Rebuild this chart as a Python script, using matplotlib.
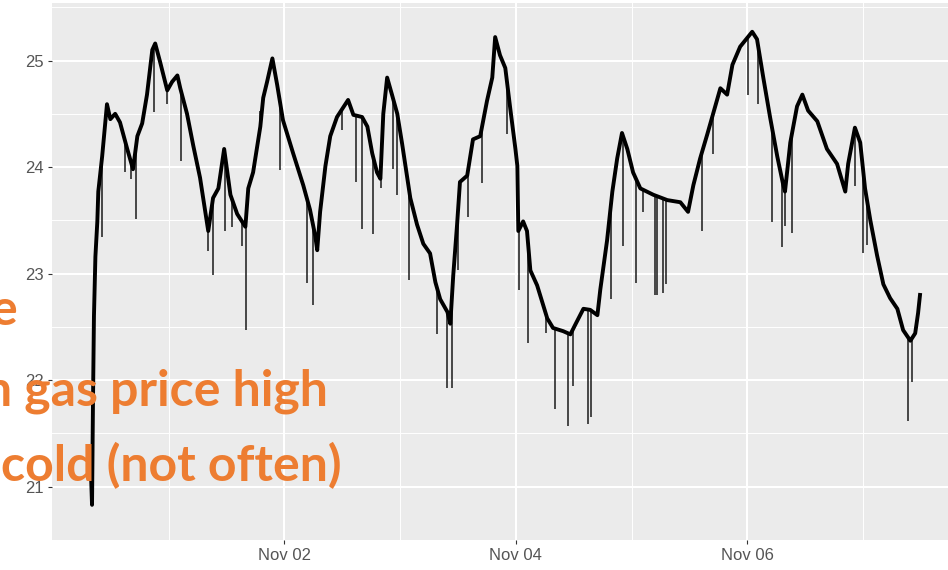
"""Indoor temperature trace, ggplot-style panel with orange slide text on top."""
import matplotlib
matplotlib.use("Agg")
import matplotlib.pyplot as plt
import matplotlib.dates as mdates
import numpy as np
import pandas as pd

BASE = pd.Timestamp("2016-11-01 00:00")

# hours relative to Nov 01 00:00, temperature (deg C)
trend_hours = [
    -16.1, -15.9, -15.7, -15.5, -15.2, -14.8, -14.6, -13.8, -12.8, -12.1,
    -11.1, -10.1, -8.6, -7.4, -6.5, -5.5, -4.5, -3.4, -2.8, -1.8,
    -0.3, 0.7, 1.8, 2.4, 3.8, 5.1, 6.5, 7.6, 8.2, 9.2,
    10.3, 11.5, 12.8, 14.2, 15.9, 16.5, 17.5, 19.0, 19.6, 20.4,
    21.5, 22.5, 23.7, 25.8, 27.9, 29.3, 30.4, 30.8, 31.4, 32.5,
    33.5, 34.9, 36.2, 37.2, 38.3, 40.1, 41.2, 42.2, 43.2, 43.9,
    44.5, 45.3, 46.3, 47.4, 48.4, 50.1, 51.5, 52.8, 54.2, 55.3,
    56.3, 57.8, 58.4, 59.0, 59.8, 60.4, 61.9, 63.1, 64.6, 66.0,
    67.1, 67.7, 68.7, 69.8, 70.8, 71.9, 72.3, 72.5, 73.5, 74.3,
    75.0, 76.4, 78.5, 79.7, 81.8, 83.3, 84.3, 86.0, 87.4, 88.9,
    89.5, 90.9, 92.0, 93.0, 94.0, 95.1, 96.3, 97.8, 100.5, 103.4,
    106.1, 107.7, 108.8, 110.2, 111.7, 112.9, 114.4, 115.8, 116.9, 118.5,
    121.0, 122.0, 123.3, 124.7, 126.2, 127.4, 127.8, 128.9, 130.3, 131.4,
    132.6, 134.5, 136.5, 138.6, 140.3, 140.9, 142.3, 143.4, 144.4, 145.5,
    146.9, 148.2, 149.6, 151.1, 152.3, 153.8, 154.8, 155.4, 155.8,
]
trend_temp = [
    21.1, 20.83, 21.8, 22.6, 23.16, 23.49, 23.77, 24.1, 24.59, 24.45,
    24.5, 24.42, 24.17, 23.98, 24.29, 24.41, 24.68, 25.1, 25.16, 24.99,
    24.72, 24.8, 24.86, 24.74, 24.5, 24.2, 23.9, 23.58, 23.4, 23.71,
    23.8, 24.17, 23.74, 23.56, 23.44, 23.8, 23.95, 24.38, 24.65, 24.8,
    25.02, 24.77, 24.44, 24.13, 23.83, 23.6, 23.35, 23.22, 23.58, 24.01,
    24.29, 24.47, 24.56, 24.63, 24.49, 24.47, 24.38, 24.13, 23.95, 23.89,
    24.5, 24.84, 24.68, 24.5, 24.22, 23.71, 23.46, 23.28, 23.19, 22.92,
    22.76, 22.64, 22.53, 22.98, 23.46, 23.86, 23.92, 24.26, 24.29, 24.62,
    24.84, 25.22, 25.05, 24.93, 24.56, 24.17, 24.01, 23.4, 23.49, 23.4,
    23.03, 22.89, 22.58, 22.49, 22.46, 22.43, 22.52, 22.67, 22.66, 22.61,
    22.85, 23.31, 23.77, 24.08, 24.32, 24.17, 23.95, 23.8, 23.74, 23.69,
    23.67, 23.58, 23.83, 24.08, 24.31, 24.5, 24.74, 24.68, 24.96, 25.13,
    25.27, 25.2, 24.84, 24.47, 24.1, 23.84, 23.77, 24.23, 24.57, 24.68,
    24.53, 24.43, 24.17, 24.03, 23.77, 24.03, 24.37, 24.23, 23.8, 23.5,
    23.17, 22.9, 22.77, 22.67, 22.47, 22.37, 22.44, 22.63, 22.8,
]

# short downward drops in the sensor trace: time (h), lowest reading
spike_hours = [
    -13.8, -9.0, -7.8, -6.7, -3.0, -0.3, 2.6, 8.2, 9.2, 11.7,
    13.2, 15.2, 16.1, 19.0, 23.1, 28.7, 30.0, 36.0, 38.9, 40.1,
    42.4, 44.1, 46.6, 47.4, 49.9, 55.7, 57.7, 58.8, 60.0, 62.1,
    65.0, 70.2, 72.7, 74.6, 78.2, 80.2, 82.9, 83.9, 87.0, 87.6,
    91.7, 94.3, 96.9, 98.4, 100.9, 101.3, 102.5, 103.2, 110.6, 112.9,
    120.2, 122.2, 125.1, 127.2, 127.8, 129.3, 142.3, 144.0, 144.8, 153.3,
    154.1,
]
spike_low = [
    23.34, 23.95, 23.89, 23.51, 24.52, 24.59, 24.06, 23.21, 22.99, 23.4,
    23.44, 23.26, 22.47, 24.53, 23.97, 22.91, 22.71, 24.35, 23.86, 23.42,
    23.37, 23.8, 23.98, 23.74, 22.94, 22.43, 21.93, 21.93, 23.03, 23.53,
    23.85, 24.31, 22.85, 22.35, 22.44, 21.73, 21.57, 21.95, 21.59, 21.65,
    22.76, 23.26, 22.91, 23.58, 22.8, 22.8, 22.82, 22.9, 23.4, 24.12,
    24.68, 24.59, 23.48, 23.25, 23.45, 23.38, 23.82, 23.19, 23.27, 21.62,
    21.98,
]

y_ticks = [21, 22, 23, 24, 25]
x_tick_days = ["2016-11-02", "2016-11-04", "2016-11-06"]
x_minor_days = ["2016-11-01", "2016-11-03", "2016-11-05", "2016-11-07"]

overlay_lines = ["e", "n gas price high", "cold (not often)"]
ORANGE = "#ED7D31"


def to_time(hours):
    return BASE + pd.to_timedelta(np.asarray(hours), unit="h")


fig = plt.figure(figsize=(9.48, 5.70), dpi=100)
fig.patch.set_facecolor("white")
ax = fig.add_axes([52 / 948, 30 / 570, (961 - 52) / 948, (540 - 3) / 570])
ax.set_facecolor("#EBEBEB")

t = to_time(trend_hours)
ts = to_time(spike_hours)
tops = np.interp(spike_hours, trend_hours, trend_temp)
ax.vlines(ts, spike_low, tops, color="#1a1a1a", lw=1.1, zorder=3)
ax.plot(t, trend_temp, color="black", lw=2.8, zorder=4)

ax.set_ylim(20.625, 25.54)
ax.set_xlim(to_time([-24.2])[0], to_time([164.3])[0])
ax.set_yticks(y_ticks)
ax.set_yticks([v + 0.5 for v in [20] + y_ticks], minor=True)
ax.set_xticks(pd.to_datetime(x_tick_days))
ax.set_xticks(pd.to_datetime(x_minor_days), minor=True)
ax.xaxis.set_major_formatter(mdates.DateFormatter("%b %d"))

ax.grid(which="major", color="white", lw=1.5)
ax.grid(which="minor", color="white", lw=0.7)
ax.set_axisbelow(True)
for s in ax.spines.values():
    s.set_visible(False)
ax.tick_params(which="major", length=3, color="#333333", width=0.8,
               labelsize=12, labelcolor="#555555", pad=3)
ax.tick_params(which="minor", length=0)
for lab in ax.get_xticklabels() + ax.get_yticklabels():
    lab.set_family("Liberation Sans")

# slide text partly hidden off the left edge
text_right_px = [17, 328, 342]
text_base_px = [325, 405, 481]
for s, xr, yb in zip(overlay_lines, text_right_px, text_base_px):
    fig.text(xr / 948, 1 - yb / 570, s, ha="right", va="baseline",
             color=ORANGE, fontsize=36, fontweight="bold", family="Lato")

fig.savefig("out.png", dpi=100)
